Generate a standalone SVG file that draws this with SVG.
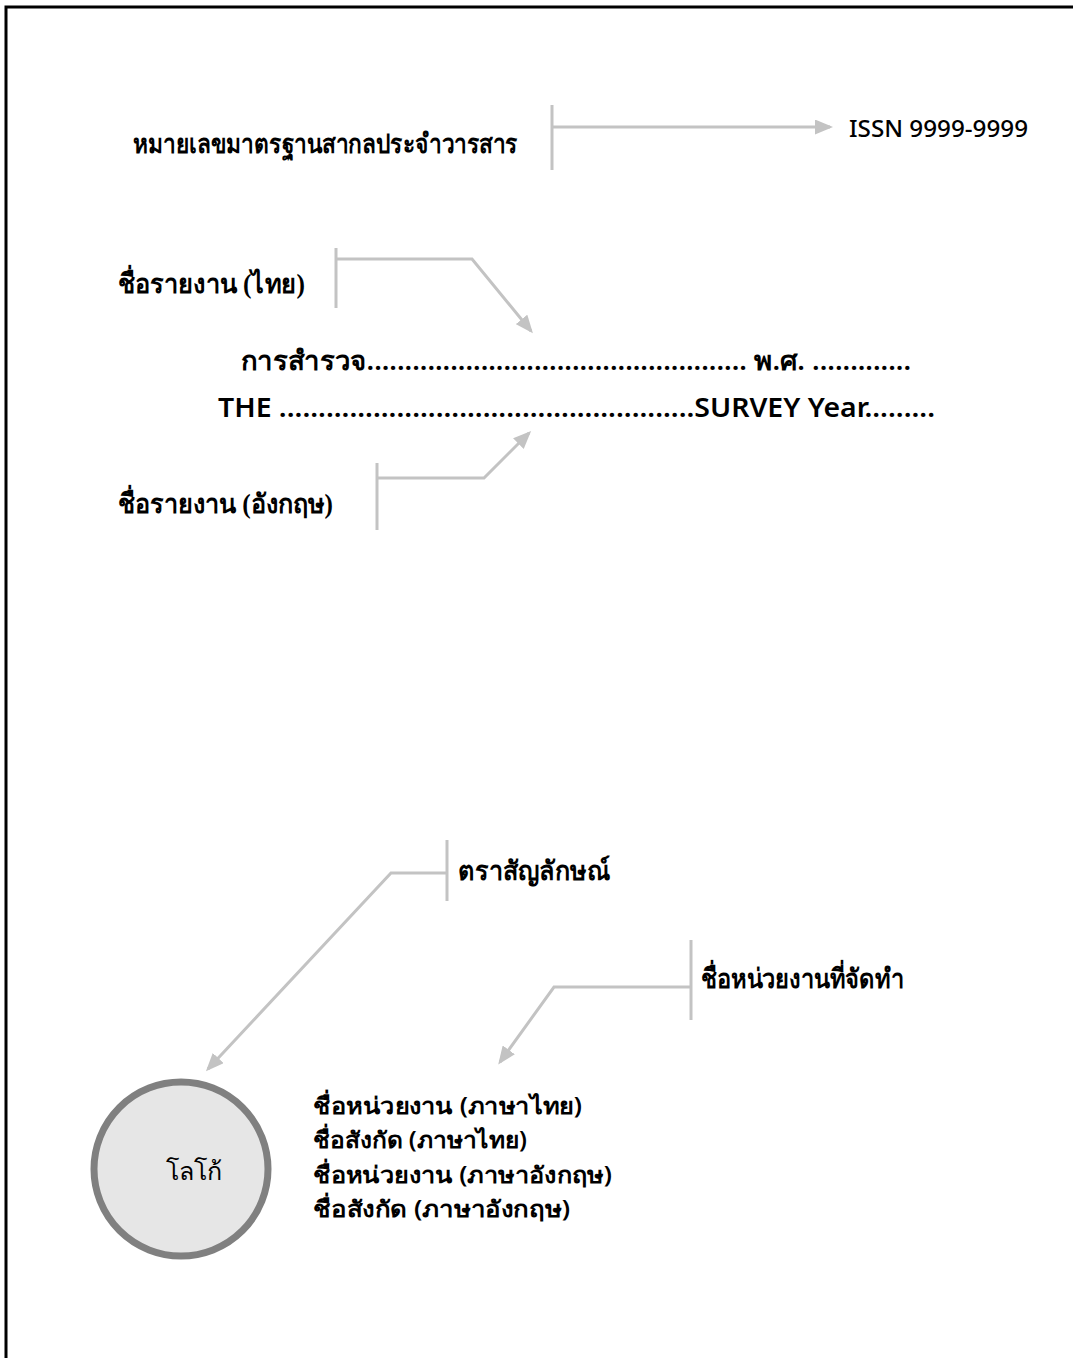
<svg xmlns="http://www.w3.org/2000/svg" width="1073" height="1358" viewBox="0 0 1073 1358">
<style>
.lbl{font-family:"Liberation Serif","DejaVu Serif",serif;font-weight:bold;font-size:27px;fill:#000}
.sans{font-family:"Noto Sans","Open Sans","DejaVu Sans",sans-serif;fill:#000}
.ttl{font-size:27px;font-weight:600}
.ag{font-size:23px;font-weight:600}
.conn{fill:none;stroke:#c3c3c3;stroke-width:3}
</style>
<defs>
<marker id="ah" markerWidth="6" markerHeight="5" refX="5" refY="2.5" orient="auto" markerUnits="strokeWidth">
<path d="M0,0 L6,2.5 L0,5 Z" fill="#c3c3c3"/>
</marker>
</defs>
<rect x="6" y="7" width="1080" height="1400" fill="#fff" stroke="#000" stroke-width="3"/>
<g id="connectors">
<line class="conn" x1="552" y1="105" x2="552" y2="170"/>
<polyline class="conn" points="552,127 830,127" marker-end="url(#ah)"/>
<line class="conn" x1="336" y1="248" x2="336" y2="308"/>
<polyline class="conn" points="336,259 472,259 531,331" marker-end="url(#ah)"/>
<line class="conn" x1="377" y1="463" x2="377" y2="530"/>
<polyline class="conn" points="377,478 484,478 529,433" marker-end="url(#ah)"/>
<line class="conn" x1="447" y1="840" x2="447" y2="901"/>
<polyline class="conn" points="447,873 391,873 208,1069" marker-end="url(#ah)"/>
<line class="conn" x1="691" y1="940" x2="691" y2="1020"/>
<polyline class="conn" points="691,987 554,987 500,1062" marker-end="url(#ah)"/>
</g>
<g id="issn-label"><text class="lbl" x="133" y="153" textLength="385" lengthAdjust="spacingAndGlyphs">หมายเลขมาตรฐานสากลประจำวารสาร</text></g>
<g id="issn"><text class="sans" x="849" y="137" font-size="24" font-weight="500" textLength="179" lengthAdjust="spacingAndGlyphs">ISSN 9999-9999</text></g>
<g id="title-th-label"><text class="lbl" x="118" y="293" textLength="187" lengthAdjust="spacingAndGlyphs">ชื่อรายงาน (ไทย)</text></g>
<g id="title">
<text class="sans ttl" x="241" y="370" textLength="670" lengthAdjust="spacingAndGlyphs">การสำรวจ.................................................. พ.ศ. .............</text>
<text class="sans ttl" x="218" y="417" textLength="717" lengthAdjust="spacingAndGlyphs">THE .....................................................SURVEY  Year.........</text>
</g>
<g id="title-en-label"><text class="lbl" x="118" y="513" textLength="215" lengthAdjust="spacingAndGlyphs">ชื่อรายงาน (อังกฤษ)</text></g>
<g id="logo-label"><text class="lbl" x="458" y="880" textLength="152" lengthAdjust="spacingAndGlyphs">ตราสัญลักษณ์</text></g>
<g id="agency-label"><text class="lbl" x="701" y="988" textLength="203" lengthAdjust="spacingAndGlyphs">ชื่อหน่วยงานที่จัดทำ</text></g>
<g id="logo">
<circle cx="181" cy="1169" r="87" fill="#e6e6e6" stroke="#808080" stroke-width="7"/>
<text x="194" y="1180" text-anchor="middle" font-family="'Liberation Serif',serif" font-size="25" fill="#000">โลโก้</text>
</g>
<g id="agency">
<text class="sans ag" x="313" y="1114" textLength="269" lengthAdjust="spacingAndGlyphs">ชื่อหน่วยงาน (ภาษาไทย)</text>
<text class="sans ag" x="313" y="1148" textLength="214" lengthAdjust="spacingAndGlyphs">ชื่อสังกัด (ภาษาไทย)</text>
<text class="sans ag" x="313" y="1183" textLength="299" lengthAdjust="spacingAndGlyphs">ชื่อหน่วยงาน (ภาษาอังกฤษ)</text>
<text class="sans ag" x="313" y="1217" textLength="257" lengthAdjust="spacingAndGlyphs">ชื่อสังกัด (ภาษาอังกฤษ)</text>
</g>
</svg>
